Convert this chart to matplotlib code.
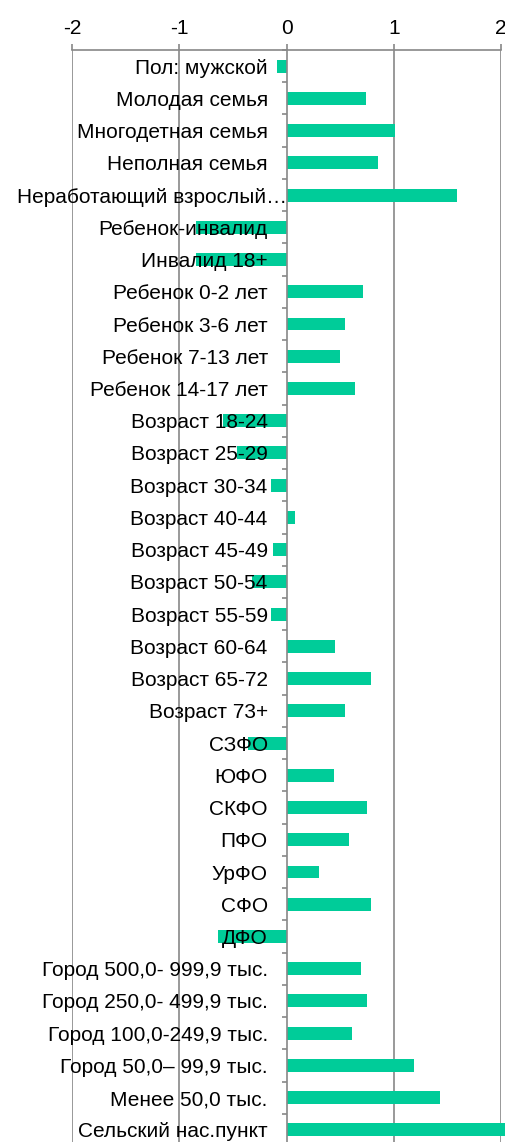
import matplotlib
matplotlib.use("Agg")
import numpy as np
import matplotlib.pyplot as plt
from matplotlib.transforms import ScaledTranslation

plt.rcParams['font.family'] = ['Liberation Sans', 'DejaVu Sans']

categories = ["Пол: мужской", "Молодая семья", "Многодетная семья", "Неполная семья",
              "Неработающий взрослый…", "Ребенок-инвалид", "Инвалид 18+",
              "Ребенок 0-2 лет", "Ребенок 3-6 лет", "Ребенок 7-13 лет", "Ребенок 14-17 лет",
              "Возраст 18-24", "Возраст 25-29", "Возраст 30-34", "Возраст 40-44",
              "Возраст 45-49", "Возраст 50-54", "Возраст 55-59", "Возраст 60-64",
              "Возраст 65-72", "Возраст 73+", "СЗФО", "ЮФО", "СКФО", "ПФО", "УрФО",
              "СФО", "ДФО", "Город 500,0- 999,9 тыс.", "Город 250,0- 499,9 тыс.",
              "Город 100,0-249,9 тыс.", "Город 50,0– 99,9 тыс.", "Менее 50,0 тыс.",
              "Сельский нас.пункт"]
values = [-0.09, 0.74, 1.01, 0.85, 1.59, -0.84, -0.84,
          0.71, 0.55, 0.50, 0.64,
          -0.59, -0.46, -0.14, 0.08,
          -0.13, -0.32, -0.14, 0.455,
          0.79, 0.55, -0.36, 0.44, 0.75, 0.58, 0.30,
          0.79, -0.64, 0.69, 0.75,
          0.61, 1.19, 1.43,
          2.05]
xticks = [-2, -1, 0, 1, 2]

grey = "#888888"
fig = plt.figure(figsize=(5.05, 11.42), dpi=100)
ax = fig.add_axes([72 / 505, -4 / 1142, 429 / 505, 1096 / 1142])

y = np.arange(len(categories))
bars = ax.barh(y, values, height=0.4, color="#00CC99", zorder=1)
for b in bars:
    b.set_clip_on(False)

for x in xticks:
    if x != 0:
        ax.axvline(x, color=grey, lw=1.2, zorder=0)

ax.set_xlim(-2, 2)
ax.set_ylim(len(categories) - 0.5, -0.5)
ax.set_axisbelow(False)

ax.spines['left'].set_position(('data', 0))
ax.spines['left'].set_color(grey)
ax.spines['left'].set_linewidth(1.2)
ax.spines['left'].set_zorder(3)
ax.spines['top'].set_color(grey)
ax.spines['top'].set_linewidth(1.2)
ax.spines['right'].set_visible(False)
ax.spines['bottom'].set_visible(False)

ax.xaxis.tick_top()
ax.set_xticks(xticks)
ax.set_xticklabels([str(v) for v in xticks])
ax.tick_params(axis='x', direction='out', length=4, width=1.2, color=grey,
               labelsize=15, pad=5)

ax.set_yticks(y)
ax.set_yticklabels(categories)
ax.set_yticks(np.arange(len(categories) + 1) - 0.5, minor=True)
ax.tick_params(axis='y', which='major', length=0, labelsize=15, pad=13.5)
ax.tick_params(axis='y', which='minor', direction='out', length=3.5, width=1.2,
               color=grey)

# the long truncated label sits closer to the axis, like in the original
lbl = ax.get_yticklabels()[4]
lbl.set_transform(lbl.get_transform() + ScaledTranslation(0.19, 0, fig.dpi_scale_trans))

fig.savefig("out.png", dpi=100)
